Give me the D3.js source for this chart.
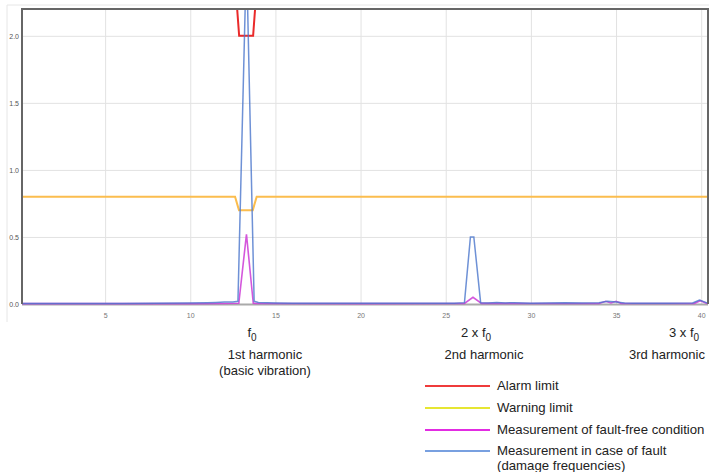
<!DOCTYPE html>
<html>
<head>
<meta charset="utf-8">
<script src="https://cdn.jsdelivr.net/npm/d3@7"></script>
<style>
  body { margin: 0; background: #fff; }
  svg { display: block; font-family: "Liberation Sans", Arial, sans-serif; }
</style>
</head>
<body>
<div id="chart"></div>
<script>
// ---- data ----
var xDomain = [0.12, 40.4]
var yDomain = [0, 2.2]
var xTicks = [5, 10, 15, 20, 25, 30, 35, 40]
var yTicks = [0, 0.5, 1.0, 1.5, 2.0]

var alarmX = [0.12, 12.58, 12.87, 13.69, 13.98, 40.4]
var alarmY = [2.5, 2.5, 2.0, 2.0, 2.5, 2.5]

var warnX = [0.12, 12.63, 12.86, 13.67, 13.9, 40.4]
var warnY = [0.8, 0.8, 0.7, 0.7, 0.8, 0.8]

var freeX = [0.12, 10, 12, 12.85, 13.3, 13.7, 14, 20, 26.1, 26.6, 27.1, 30, 34, 34.4, 34.7, 35.0, 35.3, 38, 39.6, 39.95, 40.3, 40.4]
var freeY = [0.003, 0.003, 0.004, 0.005, 0.52, 0.005, 0.004, 0.003, 0.005, 0.05, 0.005, 0.004, 0.004, 0.02, 0.008, 0.02, 0.005, 0.004, 0.005, 0.025, 0.005, 0.004]

var faultX = [0.12, 2, 4, 6, 8, 10, 11, 11.5, 12, 12.5, 12.8, 13.3, 13.75, 14, 14.5, 15, 16, 18, 20, 22, 24, 25.5, 26.1, 26.45, 26.65, 27.05, 27.5, 28, 28.5, 29, 30, 31, 32, 33, 34, 34.5, 35, 35.5, 36, 38, 39.5, 39.9, 40.3, 40.4]
var faultY = [0.003, 0.003, 0.004, 0.004, 0.005, 0.008, 0.01, 0.012, 0.015, 0.015, 0.02, 2.6, 0.02, 0.012, 0.01, 0.008, 0.006, 0.005, 0.005, 0.005, 0.005, 0.006, 0.01, 0.5, 0.5, 0.01, 0.008, 0.012, 0.008, 0.01, 0.006, 0.008, 0.01, 0.008, 0.01, 0.02, 0.015, 0.008, 0.006, 0.005, 0.008, 0.03, 0.01, 0.005]

var harmonicTop = ["f", "2 x f", "3 x f"]
var harmonicName = ["1st harmonic", "2nd harmonic", "3rd harmonic"]
var harmonicSub = ["(basic vibration)", "", ""]

var legendLabels = [["Alarm limit"], ["Warning limit"], ["Measurement of fault-free condition"], ["Measurement in case of fault", "(damage frequencies)"]]
var legendColors = ["#ef3b3b", "#e6e632", "#e22ce2", "#78a0e0"]

// ---- layout ----
var W = 709, H = 472
var margin = { top: 9, left: 22, right: 1, bottom: 168 }
var width = W - margin.left - margin.right
var height = H - margin.top - margin.bottom

var svg = d3.select("#chart").append("svg")
    .attr("width", W)
    .attr("height", H)

// faint outer frame
svg.append("line").attr("x1", 7).attr("x2", 7).attr("y1", 5).attr("y2", 322)
    .attr("stroke", "#e6e6e6")
svg.append("line").attr("x1", 7).attr("x2", W).attr("y1", 5).attr("y2", 5)
    .attr("stroke", "#e6e6e6")

var g = svg.append("g")
    .attr("transform", "translate(" + margin.left + "," + margin.top + ")")

var x = d3.scaleLinear().domain(xDomain).range([0, width])
var y = d3.scaleLinear().domain(yDomain).range([height, 0])

// grid + y labels
var yAxis = g.append("g")
    .call(d3.axisLeft(y).tickValues(yTicks).tickFormat(d3.format(".1f")).tickSize(-width).tickPadding(3))
yAxis.select(".domain").remove()
yAxis.selectAll(".tick line").attr("stroke", "#e2e2e2")
yAxis.selectAll(".tick text").attr("font-size", 7).attr("fill", "#555")
    .attr("font-family", "'Liberation Sans', Arial, sans-serif")

var xAxis = g.append("g")
    .attr("transform", "translate(0," + height + ")")
    .call(d3.axisBottom(x).tickValues(xTicks).tickSize(-height).tickPadding(9))
xAxis.select(".domain").remove()
xAxis.selectAll(".tick line").attr("stroke", "#e2e2e2")
xAxis.selectAll(".tick text").attr("font-size", 7).attr("fill", "#777")
    .attr("font-family", "'Liberation Sans', Arial, sans-serif")

// bottom axis line
g.append("line").attr("x1", 0).attr("x2", width).attr("y1", height + 0.5).attr("y2", height + 0.5)
    .attr("stroke", "#aaa").attr("stroke-width", 2)

g.append("clipPath").attr("id", "clip")
    .append("rect").attr("width", width).attr("height", height + 2).attr("y", 0)

var plot = g.append("g").attr("clip-path", "url(#clip)")

function series(xs, ys) {
    return xs.map(function (d, i) { return [d, ys[i]] })
}
var line = d3.line().x(function (d) { return x(d[0]) }).y(function (d) { return y(d[1]) })

plot.append("path").datum(series(warnX, warnY))
    .attr("d", line).attr("fill", "none").attr("stroke", "#fbbd4e").attr("stroke-width", 2)
plot.append("path").datum(series(alarmX, alarmY))
    .attr("d", line).attr("fill", "none").attr("stroke", "#ea2a2a").attr("stroke-width", 2)
plot.append("path").datum(series(freeX, freeY))
    .attr("d", line).attr("fill", "none").attr("stroke", "#cc3ad6").attr("stroke-width", 1.6)
    .attr("stroke-opacity", 0.85)
plot.append("path").datum(series(faultX, faultY))
    .attr("d", line).attr("fill", "none").attr("stroke", "#4a76cc").attr("stroke-width", 1.5)
    .attr("stroke-opacity", 0.8)

// frame
g.append("path")
    .attr("d", "M0," + height + "V0H" + width + "V" + height)
    .attr("fill", "none").attr("stroke", "#666").attr("stroke-width", 2)

// harmonic annotations (centres in page pixels)
var topCx = [252, 476, 684]
var nameCx = [265, 484, 667]
var ann = svg.append("g").attr("font-size", 13).attr("fill", "#222").attr("text-anchor", "middle")
harmonicTop.forEach(function (s, i) {
    var t = ann.append("text").attr("x", topCx[i]).attr("y", 337)
    t.append("tspan").text(s)
    t.append("tspan").attr("font-size", 10).attr("dy", 4).text("0")
    ann.append("text").attr("x", nameCx[i]).attr("y", 359).text(harmonicName[i])
    if (harmonicSub[i])
        ann.append("text").attr("x", nameCx[i]).attr("y", 375).text(harmonicSub[i])
})

// legend
var legY = [386, 408, 430, 451]
var leg = svg.append("g").attr("font-size", 13.2).attr("fill", "#222")
legendLabels.forEach(function (lab, i) {
    leg.append("line").attr("x1", 425).attr("x2", 490).attr("y1", legY[i]).attr("y2", legY[i])
        .attr("stroke", legendColors[i]).attr("stroke-width", 2)
    lab.forEach(function (s, j) {
        leg.append("text").attr("x", 497).attr("y", legY[i] + 4 + j * 15).text(s)
    })
})
</script>
</body>
</html>
